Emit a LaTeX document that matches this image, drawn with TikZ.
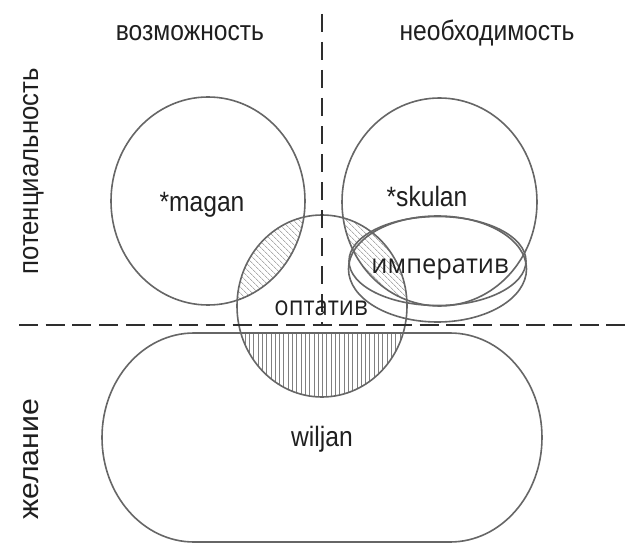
\documentclass[tikz,border=0pt]{standalone}
\usepackage{fontspec}
\setmainfont{Liberation Sans}
\newfontfamily\moodfont{Open Sans}
\usetikzlibrary{patterns.meta}

\definecolor{ring}{gray}{0.40}
\definecolor{dashc}{gray}{0.18}
\definecolor{hatch}{gray}{0.50}
\definecolor{ink}{gray}{0.12}

\tikzset{
  ringline/.style={draw=ring, line width=1.6pt},
  divider/.style={draw=dashc, line width=2pt},
  lab/.style={text=ink, inner sep=0pt, anchor=base, xscale=0.88,
              font=\fontsize{28}{30}\selectfont},
  sidelab/.style={text=ink, inner sep=0pt, anchor=base,
              font=\fontsize{28}{30}\selectfont},
  moodlab/.style={text=ink, inner sep=0pt, anchor=base, xscale=0.88,
              font=\moodfont\fontsize{27}{29}\selectfont},
  slanthatch/.style={pattern={Lines[angle=-45,distance=4pt,line width=0.6pt]},
                     pattern color=hatch},
  verthatch/.style={pattern={Lines[angle=90,distance=4.3pt,line width=0.8pt]},
                    pattern color=hatch},
}

\begin{document}
\begin{tikzpicture}[x=1pt,y=-1pt]
\useasboundingbox (0,0) rectangle (627,551);
\fill[white] (0,0) rectangle (627,551);

% shape geometry
\def\maganpath{(208,201) ellipse [x radius=97, y radius=104]}
\def\skulanpath{(439.5,202) ellipse [x radius=97.5, y radius=104]}
\def\optpath{(322,306) ellipse [x radius=85, y radius=91]}
\def\wishpath{(194,333) -- (450,333)
   arc[start angle=-90, end angle=90, x radius=92, y radius=104.5]
   -- (194,542)
   arc[start angle=90, end angle=270, x radius=92, y radius=104.5] -- cycle}

% hatched overlaps
\begin{scope}
  \clip \maganpath;
  \fill[slanthatch] \optpath;
\end{scope}
\begin{scope}
  \clip \skulanpath;
  \fill[slanthatch] \optpath;
\end{scope}
\begin{scope}
  \clip \wishpath;
  \fill[verthatch] \optpath;
\end{scope}

% outlines
\draw[ringline] \maganpath;
\draw[ringline] \skulanpath;
\draw[ringline] \optpath;
\draw[ringline] \wishpath;
% imperative: a doubled outline, the second one sagging lower
\draw[ringline] (437.5,261) ellipse [x radius=88.5, y radius=44.5];
\draw[ringline] (437.5,269) ellipse [x radius=89, y radius=53];

% axes of the scheme
\coordinate (vtop) at (322,14);
\coordinate (vbot) at (322,325);
\coordinate (hleft) at (19,325);
\coordinate (hright) at (627,325);
\draw[divider, dash pattern=on 18pt off 10pt] (vtop) -- (vbot);
\draw[divider, dash pattern=on 19pt off 7.7pt] (hleft) -- (hright);

% labels
\node[lab] (poss) at (190,41) {возможность};
\node[lab] (nec) at (487,41) {необходимость};
\node[rotate=90, sidelab, xscale=0.92] (pot) at (38,171.5) {потенциальность};
\node[rotate=90, sidelab, xscale=1.08] (wish) at (38,459.5) {желание};
\node[lab] (magan) at (202,211) {*magan};
\node[lab] (skulan) at (427,206) {*skulan};
\node[moodlab, xscale=1.07] (imp) at (440,273) {императив};
\node[moodlab] (opt) at (321,315) {оптатив};
\node[lab] (wiljan) at (322,446) {wiljan};
\end{tikzpicture}
\end{document}
